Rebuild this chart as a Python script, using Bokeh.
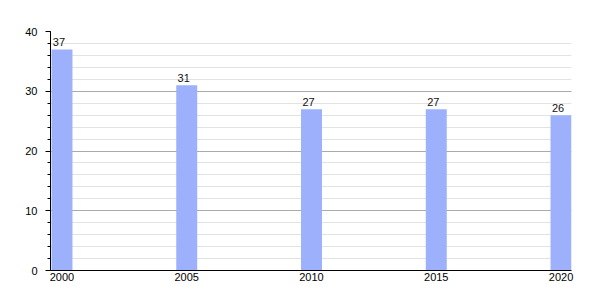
from bokeh.plotting import figure
from bokeh.models import ColumnDataSource, FixedTicker, SingleIntervalTicker, Range1d
from bokeh.core.properties import value
from bokeh.embed import file_html
from bokeh.resources import INLINE

years = [2000, 2005, 2010, 2015, 2020]
values = [37, 31, 27, 27, 26]
labels = [str(v) for v in values]

src = ColumnDataSource(dict(x=years, top=values, label=labels))

p = figure(width=600, height=300, output_backend="svg", toolbar_location=None,
           x_range=Range1d(1999.54, 2020.42), y_range=Range1d(0, 40),
           min_border_left=50, min_border_right=29, min_border_top=31, min_border_bottom=30)
p.outline_line_color = None
p.background_fill_color = "white"
p.border_fill_color = "white"

p.vbar(x="x", top="top", width=0.84, bottom=0, source=src, fill_color="#9db0fb", line_color=None)
p.text(x="x", y="top", text="label", source=src, text_align="center", text_baseline="bottom",
       y_offset=-3, x_offset=-3, text_font=value("Liberation Sans"), text_font_size="11px", text_color="#111111")

p.xgrid.grid_line_color = None
p.ygrid.grid_line_color = "#aaaaaa"
p.ygrid.minor_grid_line_color = "#e2e2e2"

p.yaxis.ticker = SingleIntervalTicker(interval=10, num_minor_ticks=5)
p.yaxis.major_tick_out = 5
p.yaxis.major_tick_in = 0
p.yaxis.minor_tick_out = 3
p.yaxis.minor_tick_in = 0
p.yaxis.axis_line_color = "black"
p.yaxis.major_tick_line_color = "black"
p.yaxis.minor_tick_line_color = "black"
p.yaxis.major_label_text_color = "black"
p.yaxis.major_label_text_font = "Liberation Sans"
p.yaxis.major_label_text_font_size = "11px"
p.yaxis.major_label_standoff = 8

p.xaxis.ticker = FixedTicker(ticks=years)
p.xaxis.major_tick_out = 0
p.xaxis.major_tick_in = 0
p.xaxis.minor_tick_out = 0
p.xaxis.minor_tick_in = 0
p.xaxis.axis_line_color = "black"
p.xaxis.major_label_text_color = "black"
p.xaxis.major_label_text_font = "Liberation Sans"
p.xaxis.major_label_text_font_size = "11px"
p.xaxis.major_label_standoff = 2

open("out.html", "w").write(file_html(p, INLINE))
